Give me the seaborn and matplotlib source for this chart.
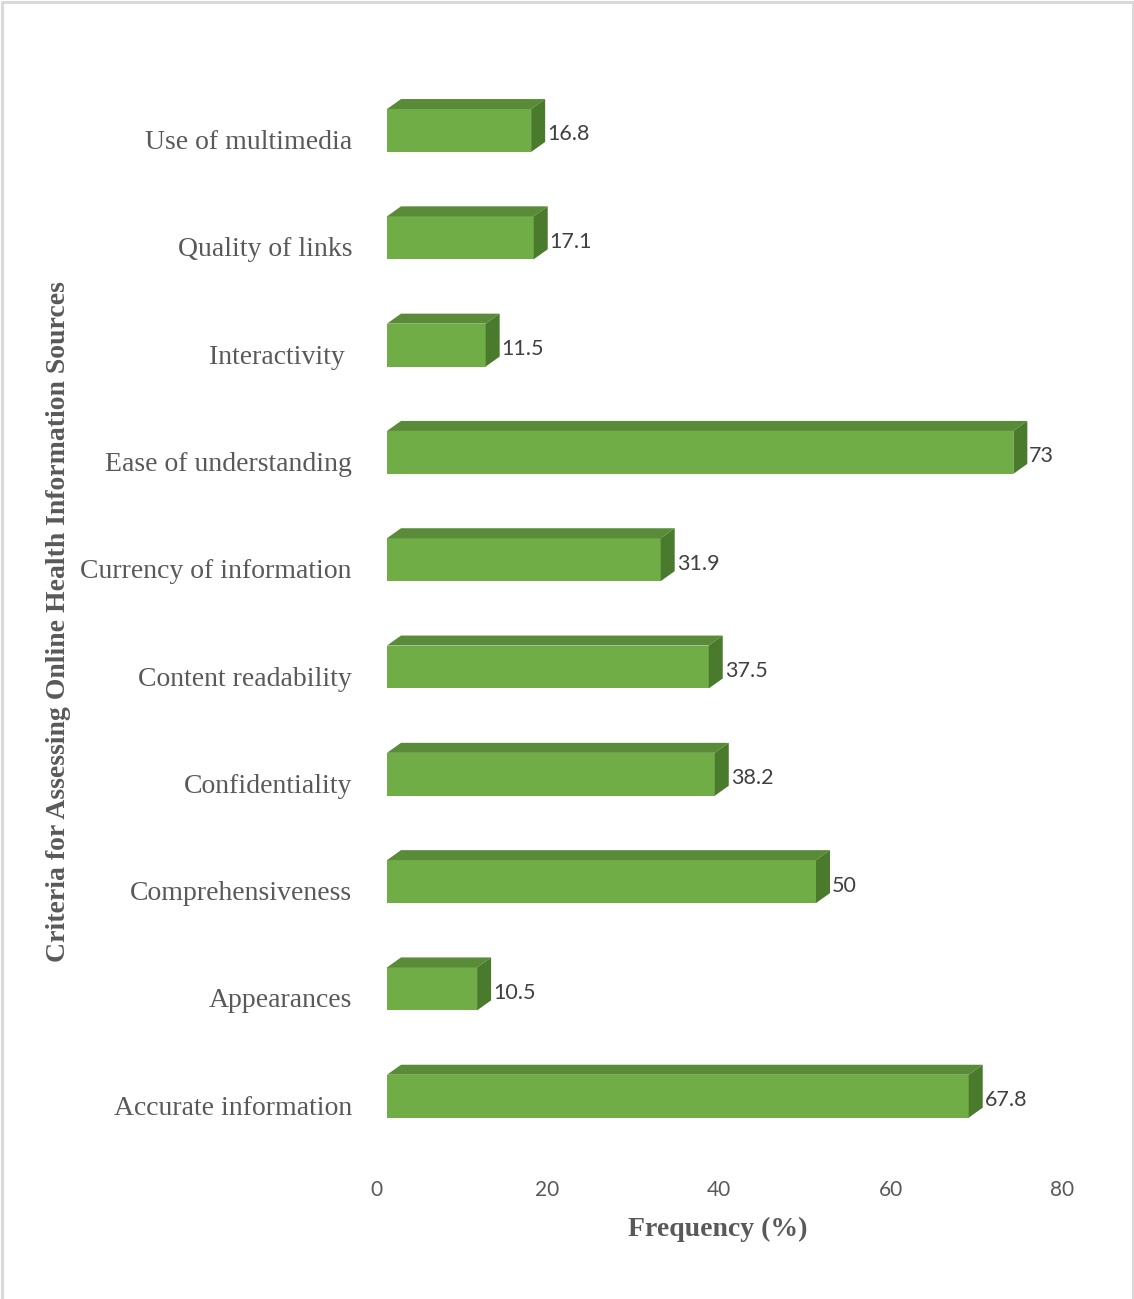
import matplotlib
matplotlib.use('Agg')
import matplotlib.pyplot as plt
import seaborn as sns
import pandas as pd
from matplotlib.patches import Polygon
from matplotlib.lines import Line2D
from matplotlib.transforms import ScaledTranslation

# ---- data ----
categories = ["Use of multimedia", "Quality of links", "Interactivity ",
              "Ease of understanding", "Currency of information",
              "Content readability", "Confidentiality", "Comprehensiveness",
              "Appearances", "Accurate information"]
values = [16.8, 17.1, 11.5, 73, 31.9, 37.5, 38.2, 50, 10.5, 67.8]
x_ticks = [0, 20, 40, 60, 80]
y_title = "Criteria for Assessing Online Health Information Sources"
x_title = "Frequency (%)"

FRONT = "#70AD47"
TOP = "#598B38"
SIDE = "#4A7A2C"

sns.set_theme(style="white")
plt.rcParams['font.family'] = ['Liberation Serif', 'DejaVu Serif']

W, H = 1134, 1299
fig = plt.figure(figsize=(W / 100, H / 100), dpi=100)
ax_l, ax_r, ax_t, ax_b = 387, 1073.4, 40, 1165
ax = fig.add_axes([ax_l / W, 1 - ax_b / H, (ax_r - ax_l) / W, (ax_b - ax_t) / H])

df = pd.DataFrame({"Criteria": categories, "Frequency": values})
sns.barplot(data=df, y="Criteria", x="Frequency", orient="h", order=categories,
            color=FRONT, saturation=1, width=0.40, linewidth=0, ax=ax)

ax.set_xlim(0, 80)
c0, step = 130.5, 107.3
ax.set_ylim((ax_b - c0) / step, (ax_t - c0) / step)

# 3D faces (depth in pixels converted to data units)
px_per_x = (ax_r - ax_l) / 80
dx = 14 / px_per_x
dy = 10 / step
for p in ax.patches[:len(values)]:
    x0, y0 = p.get_x(), p.get_y()
    x1, y1 = x0 + p.get_width(), y0 + p.get_height()
    top = Polygon([(x0, y0), (x0 + dx, y0 - dy), (x1 + dx, y0 - dy), (x1, y0)],
                  closed=True, facecolor=TOP, edgecolor='none', clip_on=False)
    side = Polygon([(x1, y0), (x1 + dx, y0 - dy), (x1 + dx, y1 - dy), (x1, y1)],
                   closed=True, facecolor=SIDE, edgecolor='none', clip_on=False)
    ax.add_patch(top)
    ax.add_patch(side)

vlabels = ax.bar_label(ax.containers[0], labels=[f"{v:g}" for v in values],
                       padding=16 * 0.72, fontfamily='Lato', fontsize=15.5, color='#404040')
for t in vlabels:
    t.xyann = (t.xyann[0], -4 * 0.72)

for s in ax.spines.values():
    s.set_visible(False)
ax.grid(False)

ax.set_xticks(x_ticks)
ax.set_xticklabels([str(t) for t in x_ticks])
ax.tick_params(axis='x', length=0, pad=10.5, labelsize=15, labelcolor='#595959')
ax.tick_params(axis='y', length=0, pad=35 * 0.72, labelsize=20, labelcolor='#595959')
for lab in ax.get_xticklabels():
    lab.set_fontfamily('Lato')
    lab.set_transform(lab.get_transform() + ScaledTranslation(-11 / 100, 0, fig.dpi_scale_trans))
for lab in ax.get_yticklabels():
    lab.set_transform(lab.get_transform() + ScaledTranslation(0, -9 / 100, fig.dpi_scale_trans))

ax.set_xlabel(x_title, fontsize=20, fontweight='bold', color='#595959')
ax.xaxis.label.set_va('center')
ax.xaxis.set_label_coords((718 - ax_l) / (ax_r - ax_l), (ax_b - 1229) / (ax_b - ax_t))
ax.set_ylabel(y_title, fontsize=20, fontweight='bold', color='#595959')
ax.yaxis.label.set_va('center')
ax.yaxis.set_label_coords((59 - ax_l) / (ax_r - ax_l), (ax_b - 621.5) / (ax_b - ax_t))

# chart border (left, top, right)
fig.add_artist(Line2D([1.5 / W, 1.5 / W, 1 - 1.5 / W, 1 - 1.5 / W],
                      [0, 1 - 1.5 / H, 1 - 1.5 / H, 0],
                      transform=fig.transFigure, color='#D9D9D9', lw=2.2))

fig.savefig("out.png", dpi=100)
